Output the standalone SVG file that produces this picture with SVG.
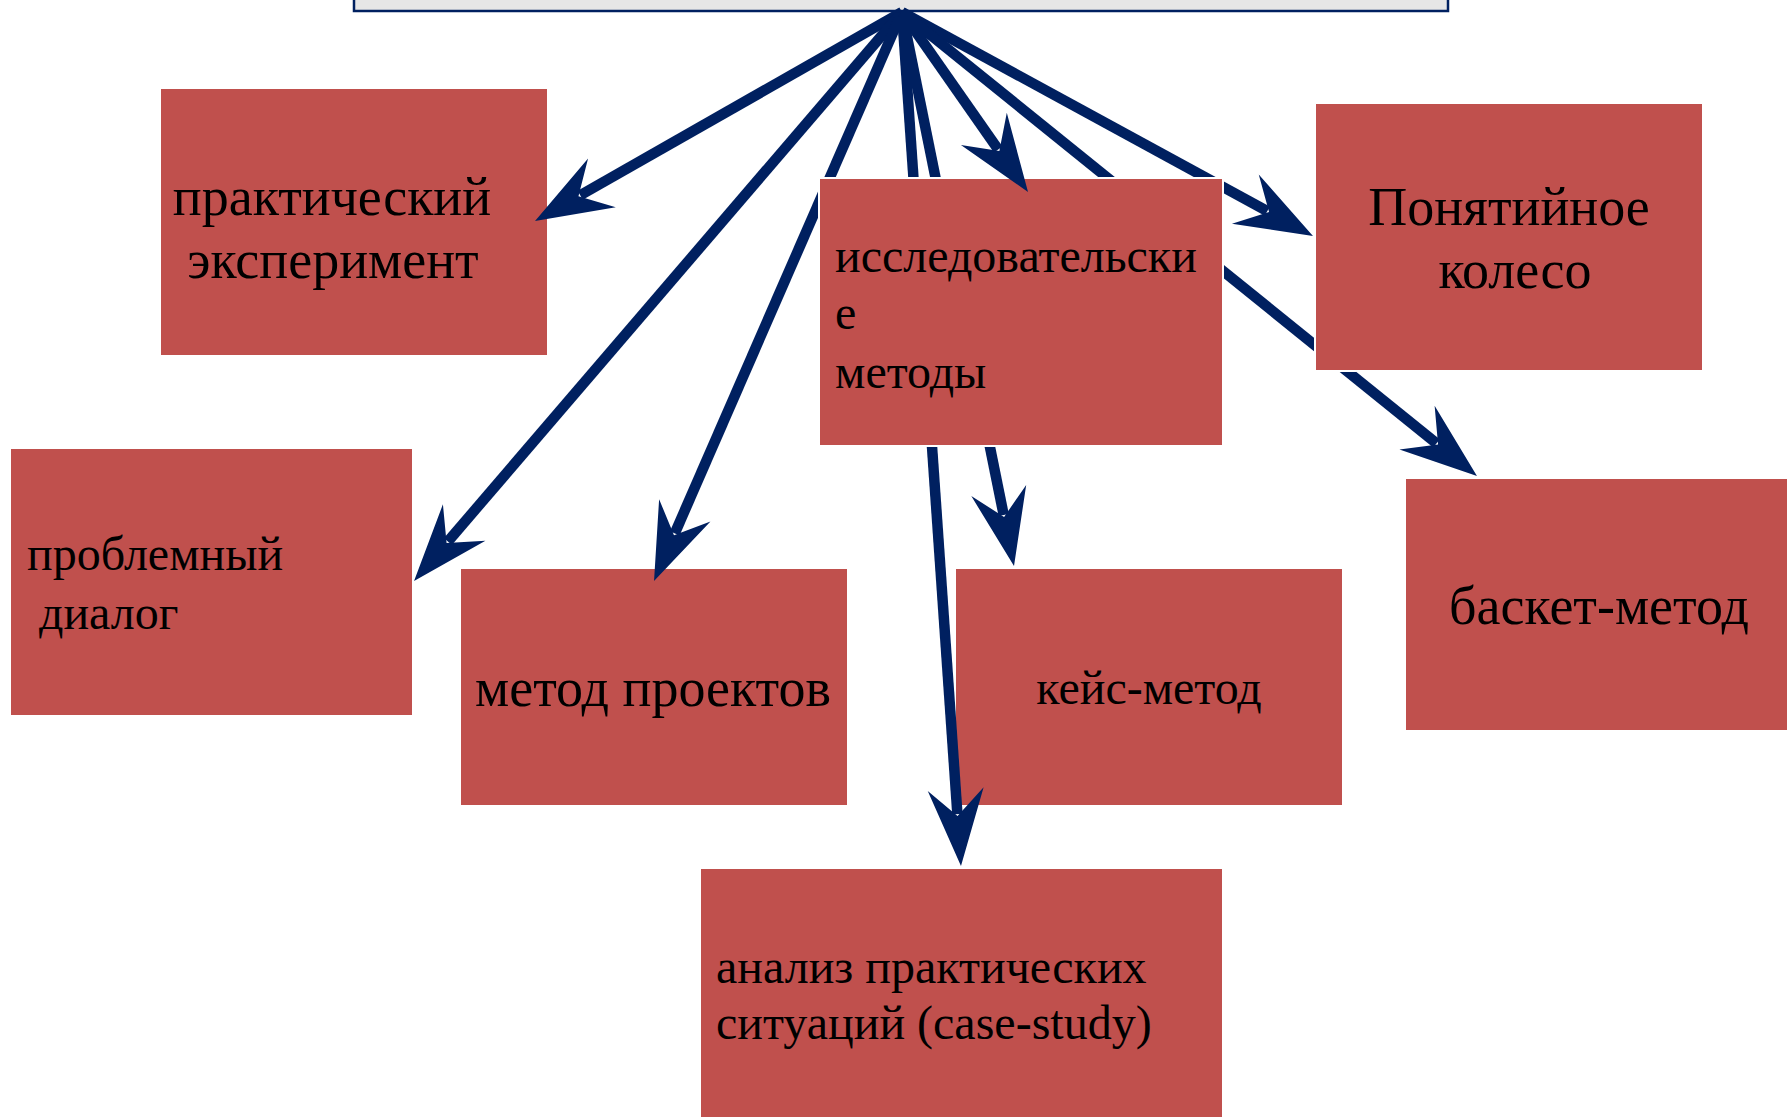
<svg xmlns="http://www.w3.org/2000/svg" width="1787" height="1117" viewBox="0 0 1787 1117">
<style>
.bg{fill:#ffffff}
.box{fill:#c0504d;stroke:#ffffff;stroke-width:2}
.top{fill:#e6e6e6;stroke:#002060;stroke-width:2.5}
.t{font-family:"Liberation Serif","Times New Roman",serif;fill:#000000}
.big{font-size:54px}
.sm{font-size:48px}
.mid{text-anchor:middle}
.c{fill:none;stroke:#002060;stroke-width:10.5;stroke-linecap:butt;marker-end:url(#ah)}
</style>
<defs>
<marker id="ah" markerUnits="userSpaceOnUse" viewBox="-30 -30 90 60" markerWidth="90" markerHeight="60" refX="0" refY="0" orient="auto" overflow="visible">
<path d="M52,0 L-25,-28 L2,0 L-25,28 Z" fill="#002060"/>
</marker>
</defs>
<rect class="bg" x="0" y="0" width="1787" height="1117"/>
<g id="node-top"><rect class="top" x="354" y="-50" width="1094" height="61"/></g>
<g id="node-prakt"><rect class="box" x="160" y="88" width="388" height="268"/>
<text class="t big mid" x="332" y="215">практический</text>
<text class="t big mid" x="333" y="278">эксперимент</text></g>
<g id="node-problem"><rect class="box" x="10" y="448" width="403" height="268"/>
<text class="t sm" x="27" y="570">проблемный</text>
<text class="t sm" x="39" y="629">диалог</text></g>
<g id="node-proekt"><rect class="box" x="460" y="568" width="388" height="238"/>
<text class="t big mid" x="653" y="706">метод проектов</text></g>
<g id="node-keys"><rect class="box" x="955" y="568" width="388" height="238"/>
<text class="t sm mid" x="1149" y="704">кейс-метод</text></g>
<g id="node-basket"><rect class="box" x="1405" y="478" width="392" height="253"/>
<text class="t big mid" x="1599" y="624">баскет-метод</text></g>
<g id="node-analiz"><rect class="box" x="700" y="868" width="523" height="260"/>
<text class="t sm" x="716" y="983">анализ практических</text>
<text class="t sm" x="716" y="1039">ситуаций (case-study)</text></g>
<g id="connectors">
<line class="c" x1="902" y1="12" x2="580.2" y2="195.3"/>
<line class="c" x1="902" y1="12" x2="447.9" y2="541.5"/>
<line class="c" x1="902" y1="12" x2="674.8" y2="533.3"/>
<line class="c" x1="902" y1="12" x2="957.4" y2="814.1"/>
<line class="c" x1="902" y1="12" x2="1003.7" y2="515"/>
<line class="c" x1="902" y1="12" x2="1267.3" y2="211.1"/>
<line class="c" x1="902" y1="12" x2="1436.5" y2="443.3"/>
</g>
<g id="node-issled"><rect class="box" x="819" y="178" width="404" height="268"/>
<text class="t sm" x="835" y="272">исследовательски</text>
<text class="t sm" x="835" y="329">е</text>
<text class="t sm" x="835" y="388">методы</text></g>
<g id="node-ponyat"><rect class="box" x="1315" y="103" width="388" height="268"/>
<text class="t big mid" x="1509" y="225">Понятийное</text>
<text class="t big mid" x="1515" y="288">колесо</text></g>
<g id="connectors-front">
<line class="c" x1="902" y1="12" x2="998.2" y2="149.4"/>
</g>
</svg>
